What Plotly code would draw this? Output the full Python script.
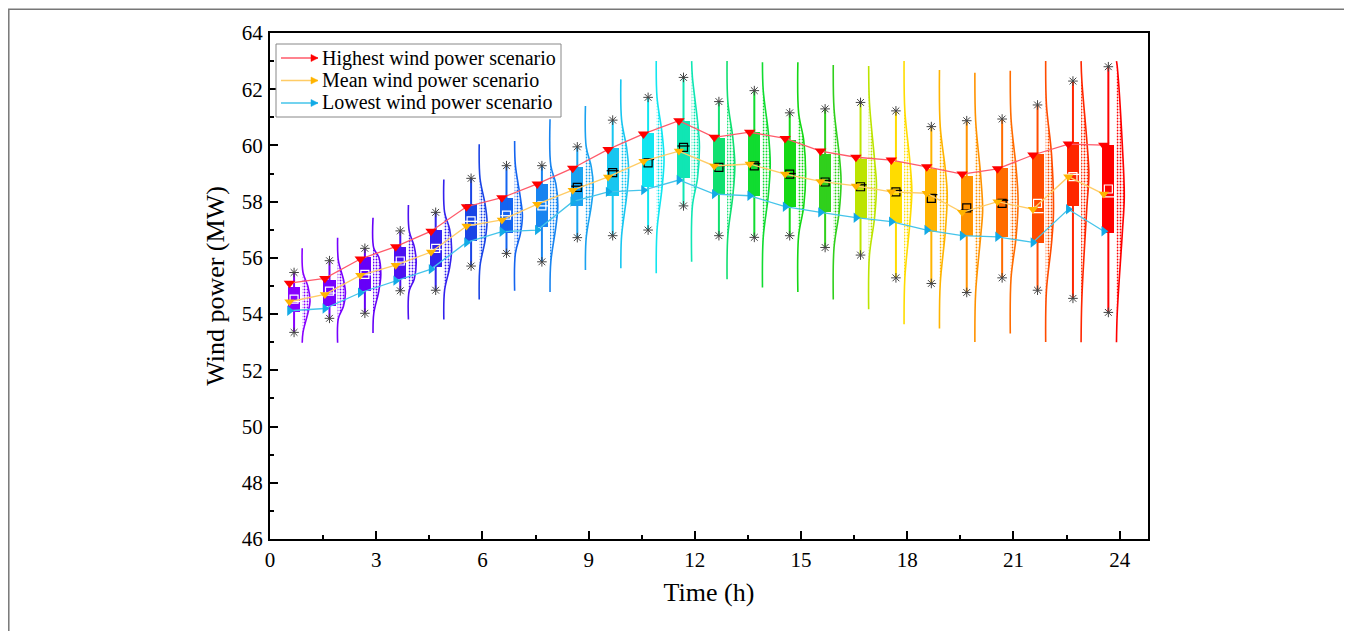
import plotly.graph_objects as go

# ---------------- data ----------------
hours = list(range(1, 25))

box_q3 = [54.97, 55.23, 56.02, 56.40, 57.01, 57.91, 58.12, 58.63, 59.24, 59.90, 60.43, 60.88,
          60.25, 60.47, 60.19, 59.70, 59.51, 59.42, 59.15, 58.91, 59.19, 59.69, 60.13, 60.01]
box_q1 = [54.06, 54.28, 54.83, 55.25, 55.66, 56.61, 56.87, 57.11, 57.85, 58.20, 58.51, 58.83,
          58.23, 58.21, 57.82, 57.62, 57.41, 57.25, 56.93, 56.79, 56.75, 56.52, 57.84, 56.89]
box_median = [54.45, 54.75, 55.40, 55.85, 56.30, 57.30, 57.50, 57.85, 58.55, 59.10, 59.50, 59.98,
              59.28, 59.35, 59.00, 58.75, 58.60, 58.40, 58.25, 57.70, 58.05, 57.61, 58.97, 58.17]
box_mean = [54.53, 54.82, 55.41, 55.89, 56.34, 57.32, 57.52, 57.85, 58.51, 59.03, 59.38, 59.93,
            59.22, 59.27, 58.98, 58.70, 58.53, 58.35, 58.12, 57.78, 57.94, 57.94, 58.89, 58.45]
whisker_max = [55.48, 55.90, 56.34, 56.96, 57.62, 58.83, 59.28, 59.28, 59.95, 60.90, 61.71, 62.42,
               61.56, 61.95, 61.16, 61.30, 61.53, 61.23, 60.67, 60.88, 60.94, 61.44, 62.29, 62.80]
whisker_min = [53.35, 53.85, 54.03, 54.83, 54.85, 55.71, 56.16, 55.86, 56.72, 56.79, 56.99, 57.85,
               56.79, 56.73, 56.79, 56.37, 56.10, 55.29, 55.09, 54.77, 55.29, 54.85, 54.56, 54.06]
dist_top = [56.34, 56.72, 57.43, 57.88, 58.79, 60.04, 60.16, 60.93, 61.40, 62.35, 63.00, 63.00,
            63.00, 62.96, 62.96, 62.86, 62.83, 63.00, 62.68, 62.59, 62.66, 63.00, 63.00, 63.00]
dist_bottom = [52.98, 52.98, 53.33, 53.81, 53.81, 54.52, 54.83, 54.79, 55.57, 55.63, 55.45, 55.86,
               55.24, 54.95, 54.79, 54.52, 54.17, 53.64, 53.49, 53.01, 53.31, 53.01, 53.00, 53.00]

highest = [55.10, 55.27, 55.96, 56.40, 56.95, 57.82, 58.14, 58.63, 59.19, 59.86, 60.41, 60.88,
           60.29, 60.47, 60.25, 59.80, 59.58, 59.48, 59.24, 58.98, 59.17, 59.66, 60.05, 60.01]
mean_scen = [54.44, 54.70, 55.38, 55.74, 56.21, 57.13, 57.35, 57.91, 58.41, 58.88, 59.44, 59.80,
             59.27, 59.34, 58.98, 58.72, 58.56, 58.35, 58.30, 57.62, 58.00, 57.73, 58.89, 58.27]
lowest = [54.12, 54.20, 54.76, 55.19, 55.60, 56.55, 56.93, 56.99, 58.00, 58.35, 58.41, 58.77,
          58.27, 58.21, 57.82, 57.62, 57.43, 57.29, 56.99, 56.79, 56.75, 56.55, 57.73, 56.95]

series_names = ["Highest wind power scenario", "Mean wind power scenario", "Lowest wind power scenario"]
x_ticks = [0, 3, 6, 9, 12, 15, 18, 21, 24]

# ---------------- styles ----------------
hour_colors = ["#8800ff", "#7700ff", "#6600f8", "#4d10f2", "#3322ee", "#1a44e6", "#1464f0", "#1884f0",
               "#1aa2f0", "#18c6f0", "#10e6f0", "#10e6b4", "#10e070", "#10dc30", "#14d814", "#30d01c",
               "#bce400", "#ffdc00", "#ffb400", "#ff9200", "#ff6c00", "#ff4c00", "#ff2600", "#ff0000"]
mark_colors = ["white"] * 8 + ["black"] * 13 + ["white"] * 3

X_OFF = -0.32       # box centre relative to hour
BOX_W = 0.34
LINE_OFF = -0.13    # scenario markers relative to box centre
CURVE_OFF = 0.23    # distribution curve base relative to box centre
CURVE_W = 0.22
curve_shape = [0, 0.1, 0.75, 1.0, 0.75, 0.1, 0]

FONT = "Liberation Serif, Times New Roman, serif"

xc = [h + X_OFF for h in hours]

fig = go.Figure()

# distribution curves with dotted fill
for i in range(len(hours)):
    base = xc[i] + CURVE_OFF
    ys = [dist_top[i], whisker_max[i], box_q3[i], box_median[i], box_q1[i], whisker_min[i], dist_bottom[i]]
    xs = [base + CURVE_W * f for f in curve_shape]
    fig.add_trace(go.Scatter(
        x=xs, y=ys, mode="lines",
        line=dict(color=hour_colors[i], width=1.6, shape="spline"),
        fill="toself", fillcolor="rgba(0,0,0,0)",
        fillpattern=dict(shape=".", fgcolor=hour_colors[i], bgcolor="rgba(0,0,0,0)",
                         size=3, solidity=0.3, fillmode="replace"),
        hoverinfo="skip", showlegend=False))

# whiskers
for i in range(len(hours)):
    fig.add_trace(go.Scatter(
        x=[xc[i], xc[i]], y=[whisker_min[i], whisker_max[i]], mode="lines",
        line=dict(color=hour_colors[i], width=2), hoverinfo="skip", showlegend=False))

# boxes
fig.add_trace(go.Bar(
    x=xc, y=[a - b for a, b in zip(box_q3, box_q1)], base=box_q1, width=BOX_W,
    marker=dict(color=hour_colors, line=dict(width=0)), showlegend=False, hoverinfo="skip"))

# median lines
for col in ["white", "black"]:
    mx, my = [], []
    for i in range(len(hours)):
        if mark_colors[i] == col:
            mx += [xc[i] - BOX_W / 2, xc[i] + BOX_W / 2, None]
            my += [box_median[i], box_median[i], None]
    fig.add_trace(go.Scatter(x=mx, y=my, mode="lines", line=dict(color=col, width=1.3),
                             hoverinfo="skip", showlegend=False))

# mean squares
fig.add_trace(go.Scatter(
    x=xc, y=box_mean, mode="markers",
    marker=dict(symbol="square-open", size=8, color=mark_colors, line=dict(width=1.2)),
    hoverinfo="skip", showlegend=False))

# whisker end asterisks
fig.add_trace(go.Scatter(
    x=xc + xc, y=whisker_max + whisker_min, mode="markers",
    marker=dict(symbol="asterisk-open", size=8, color="#444444", line=dict(width=1, color="#444444")),
    hoverinfo="skip", showlegend=False))

# scenario lines
scen = [
    (highest, "#ff5a6a", "#ff0000", "triangle-down", 10),
    (mean_scen, "#ffcc66", "#ffb400", "triangle-down", 9),
    (lowest, "#44c4ea", "#12aae6", "triangle-right", 9),
]
xl = [x + LINE_OFF for x in xc]
for (vals, lc, mc, sym, sz), name in zip(scen, series_names):
    fig.add_trace(go.Scatter(
        x=xl, y=vals, mode="lines+markers", name=name,
        line=dict(color=lc, width=1.3),
        marker=dict(symbol=sym, size=sz, color=mc, line=dict(width=0)),
        showlegend=False))

# ---------------- hand-drawn legend (Origin-style compact box) ----------------
PLOT_L, PLOT_R, PLOT_T, PLOT_B = 270, 1148, 33, 539   # page pixels of the plot area


def px(xp):
    return (xp - PLOT_L) / (PLOT_R - PLOT_L)


def py(yp):
    return (PLOT_B - yp) / (PLOT_B - PLOT_T)


shapes = [dict(type="rect", xref="paper", yref="paper",
               x0=px(276), x1=px(561), y0=py(117), y1=py(44),
               line=dict(color="#888888", width=1), fillcolor="white", layer="above")]
annotations = []
legend_rows = [58, 80.5, 103]
for (vals, lc, mc, sym, sz), name, yr in zip(scen, series_names, legend_rows):
    shapes.append(dict(type="line", xref="paper", yref="paper",
                       x0=px(281), x1=px(318), y0=py(yr), y1=py(yr),
                       line=dict(color=lc, width=1.3), layer="above"))
    shapes.append(dict(type="path", xref="paper", yref="paper",
                       path=f"M {px(311)},{py(yr - 3.5)} L {px(318)},{py(yr)} L {px(311)},{py(yr + 3.5)} Z",
                       fillcolor=mc, line=dict(color=mc, width=0.5), layer="above"))
    annotations.append(dict(xref="paper", yref="paper", x=px(320), y=py(yr),
                            xanchor="left", yanchor="middle", text=name, showarrow=False,
                            font=dict(family=FONT, size=20, color="black")))

# outer frame of the figure
shapes.append(dict(type="rect", xref="paper", yref="paper",
                   x0=-0.2975, x1=1.2255, y0=-0.25, y1=1.047,
                   line=dict(color="#777777", width=1.5), fillcolor="rgba(0,0,0,0)", layer="below"))

axis_common = dict(
    showline=True, linewidth=2, linecolor="black", mirror=True,
    ticks="inside", ticklen=8, tickwidth=1.5, tickcolor="black",
    showgrid=False, zeroline=False,
    tickfont=dict(family=FONT, size=21, color="black"),
)

# page body has an 8px default margin; figure sized to fit the 1352x631 window
fig.update_layout(
    width=1344, height=623,
    margin=dict(l=262, r=204, t=25, b=92),
    paper_bgcolor="white", plot_bgcolor="white",
    font=dict(family=FONT, color="black"),
    bargap=0,
    showlegend=False,
    xaxis=dict(range=[0, 24.8], tickvals=x_ticks,
               minor=dict(ticks="inside", ticklen=4, dtick=1.5, tick0=0, tickcolor="black"),
               title=dict(text="Time (h)", font=dict(family=FONT, size=26), standoff=12),
               ticklabelstandoff=1, **axis_common),
    yaxis=dict(range=[46, 64], dtick=2, tick0=46,
               minor=dict(ticks="inside", ticklen=4, dtick=1, tick0=46, tickcolor="black"),
               title=dict(text="Wind power (MW)", font=dict(family=FONT, size=26), standoff=10),
               ticklabelstandoff=1, **axis_common),
    shapes=shapes,
    annotations=annotations,
)

fig.write_html("out.html")
